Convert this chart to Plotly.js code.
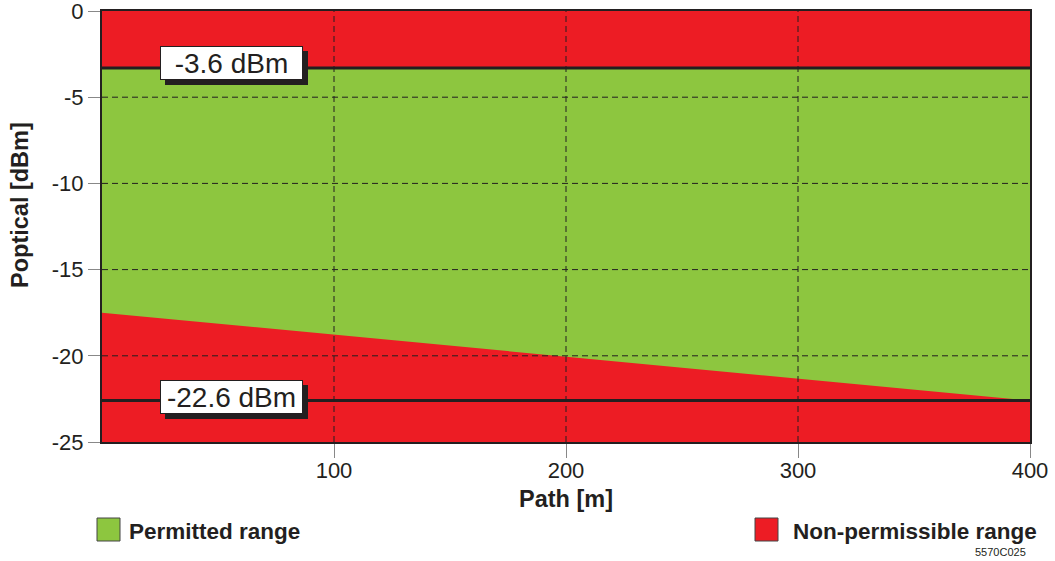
<!DOCTYPE html>
<html>
<head>
<meta charset="utf-8">
<script src="https://cdn.plot.ly/plotly-3.0.1.min.js"></script>
<style>html,body{margin:0;padding:0;background:#fff;}#chart{width:1055px;height:561px;}</style>
</head>
<body>
<div id="chart"></div>
<script>
// ---- data ----
const pathM = [0, 400];                 // path length extent [m]
const axisTop = [0, 0];                 // dBm
const axisBottom = [-25, -25];          // dBm
const maxPower = [-3.3, -3.3];          // upper limit line (labelled -3.6 dBm)
const minPowerLimit = [-22.6, -22.6];   // lower limit line (labelled -22.6 dBm)
const minPowerPath = [-17.5, -22.6];    // sloped lower boundary of permitted range
const xTicks = [100, 200, 300, 400];
const yTicks = [0, -5, -10, -15, -20, -25];
const limitLabels = ['-3.6 dBm', '-22.6 dBm'];
const legendNames = ['Permitted range', 'Non-permissible range'];
const figureCode = '5570C025';

const RED = '#ED1C24', GREEN = '#8DC63F', INK = '#231f20';

const traces = [
  { // non-permissible background
    x: [pathM[0], pathM[1], pathM[1], pathM[0], pathM[0]],
    y: [axisTop[0], axisTop[1], axisBottom[1], axisBottom[0], axisTop[0]],
    fill: 'toself', fillcolor: RED, mode: 'lines', line: {width: 0},
    hoverinfo: 'skip', showlegend: false
  },
  { // permitted range
    x: [pathM[0], pathM[1], pathM[1], pathM[0], pathM[0]],
    y: [maxPower[0], maxPower[1], minPowerPath[1], minPowerPath[0], maxPower[0]],
    fill: 'toself', fillcolor: GREEN, mode: 'lines', line: {width: 0},
    hoverinfo: 'skip', showlegend: false
  },
  { x: pathM, y: maxPower, mode: 'lines', line: {color: INK, width: 3}, hoverinfo: 'skip', showlegend: false },
  { x: pathM, y: minPowerLimit, mode: 'lines', line: {color: INK, width: 3}, hoverinfo: 'skip', showlegend: false }
];

// plot area in pixels for paper conversion
const L = 102, R = 1030, T = 11, B = 442;
const px = v => (v - L) / (R - L);
const py = v => (B - v) / (B - T);

const shapes = [];
xTicks.filter(v => v < pathM[1]).forEach(v => shapes.push({
  type: 'line', xref: 'x', yref: 'paper', x0: v, x1: v, y0: 0, y1: 1, layer: 'above',
  line: {color: INK, width: 1, dash: '6px,4px'}
}));
yTicks.filter(v => v < 0 && v > -25).forEach(v => shapes.push({
  type: 'line', xref: 'paper', yref: 'y', x0: 0, x1: 1, y0: v, y1: v, layer: 'above',
  line: {color: INK, width: 1, dash: '6px,4px'}
}));
// legend squares
shapes.push({type: 'rect', xref: 'paper', yref: 'paper', x0: px(97), x1: px(120), y0: py(518), y1: py(541),
  fillcolor: GREEN, line: {color: '#444', width: 1}});
shapes.push({type: 'rect', xref: 'paper', yref: 'paper', x0: px(755), x1: px(778), y0: py(518), y1: py(541),
  fillcolor: RED, line: {color: '#444', width: 1}});

const labelFont = {family: 'Liberation Sans, Arial, sans-serif', size: 28, color: INK};
const annotations = [];
[[maxPower[0], limitLabels[0], 5], [minPowerLimit[0], limitLabels[1], 4]].forEach(([yv, txt, ys]) => {
  // drop shadow box (no text)
  annotations.push({x: 56, y: yv, xref: 'x', yref: 'y', text: ' ', showarrow: false,
    xshift: 5, yshift: ys - 5, width: 141, height: 32, bgcolor: INK, bordercolor: INK, borderwidth: 1, borderpad: 0,
    font: labelFont});
  annotations.push({x: 56, y: yv, xref: 'x', yref: 'y', text: txt, showarrow: false,
    yshift: ys, width: 141, height: 32, bgcolor: '#ffffff', bordercolor: INK, borderwidth: 1, borderpad: 0,
    font: labelFont});
});
const boldFont = {family: 'Liberation Sans, Arial, sans-serif', size: 22.5, color: INK, weight: 'bold'};
const titleFont = {family: 'Liberation Sans, Arial, sans-serif', size: 23.5, color: INK, weight: 'bold'};
annotations.push({xref: 'paper', yref: 'paper', x: px(127), y: py(531), xanchor: 'left', yanchor: 'middle',
  text: '<b>' + legendNames[0] + '</b>', showarrow: false, font: boldFont});
annotations.push({xref: 'paper', yref: 'paper', x: px(791), y: py(531), xanchor: 'left', yanchor: 'middle',
  text: '<b>' + legendNames[1] + '</b>', showarrow: false, font: boldFont});
annotations.push({xref: 'paper', yref: 'paper', x: px(1028), y: py(552), xanchor: 'right', yanchor: 'middle',
  text: figureCode, showarrow: false, font: {family: 'Liberation Sans, Arial, sans-serif', size: 11, color: INK}});
annotations.push({xref: 'paper', yref: 'paper', x: px(566), y: py(499), xanchor: 'center', yanchor: 'middle',
  text: '<b>Path [m]</b>', showarrow: false, font: titleFont});
annotations.push({xref: 'paper', yref: 'paper', x: px(20), y: py(205), xanchor: 'center', yanchor: 'middle',
  textangle: -90, text: '<b>Poptical [dBm]</b>', showarrow: false, font: titleFont});

const tickFont = {family: 'Liberation Sans, Arial, sans-serif', size: 22, color: INK};
const layout = {
  width: 1055, height: 561,
  margin: {l: L, r: 1055 - R, t: T, b: 561 - B, pad: 0},
  paper_bgcolor: '#ffffff', plot_bgcolor: '#ffffff',
  showlegend: false,
  xaxis: {range: pathM, tickvals: xTicks, ticktext: xTicks.map(String), ticks: 'outside', ticklen: 14,
    tickcolor: '#888', tickwidth: 1, showgrid: false, zeroline: false, showline: true, mirror: true,
    linecolor: INK, linewidth: 2, tickfont: tickFont, fixedrange: true, ticklabelstandoff: -6,
    ticklabeloverflow: 'allow'},
  yaxis: {range: [axisBottom[0], axisTop[0]], tickvals: yTicks, ticktext: yTicks.map(String), ticks: 'outside',
    ticklen: 12, tickcolor: '#888', tickwidth: 1, showgrid: false, zeroline: false, showline: true, mirror: true,
    linecolor: INK, linewidth: 2, tickfont: tickFont, fixedrange: true, ticklabeloverflow: 'allow'},
  shapes: shapes,
  annotations: annotations
};

Plotly.newPlot('chart', traces, layout, {displayModeBar: false, staticPlot: true});
</script>
</body>
</html>
